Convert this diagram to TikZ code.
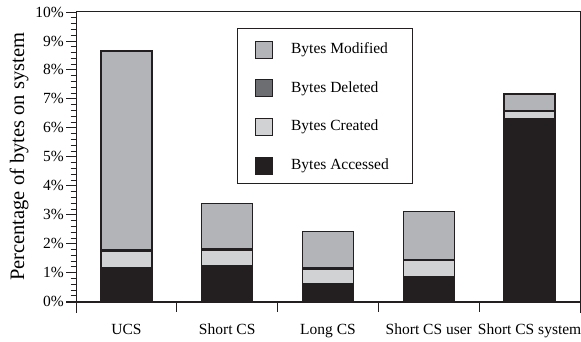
\documentclass[tikz,border=0pt]{standalone}
\usepackage{fontspec}
\setmainfont{Liberation Serif}
\usepackage{tikz}
\usetikzlibrary{positioning}

\definecolor{modgray}{HTML}{B3B4B8}
\definecolor{delgray}{HTML}{6D6E71}
\definecolor{crgray}{HTML}{D1D2D4}
\definecolor{accblack}{HTML}{231F20}

\tikzset{
    seg/.style={draw=accblack, line width=1.3bp},
    ticklab/.style={anchor=east, inner sep=0pt, font=\fontsize{15.5bp}{18bp}\selectfont},
    catlab/.style={anchor=base, inner sep=0pt, font=\fontsize{15.5bp}{18bp}\selectfont},
    legsq/.style={draw=accblack, line width=1.2bp, minimum size=17bp, inner sep=0pt},
    legtext/.style={anchor=west, inner sep=0pt, font=\fontsize{15.5bp}{18bp}\selectfont}
}

\begin{document}
\begin{tikzpicture}[x=1bp,y=1bp]
    \useasboundingbox (-76,-39.3) rectangle (505,301.7);
    % frame
    \draw[accblack, line width=1bp] (0,-11) -- (0,289.7) -- (504,289.7) -- (504,-11);
    % y axis ticks, minor every 0.2%
    \foreach \i in {1,...,49} {
        \draw[accblack, line width=0.9bp] (-5.5,\i*5.794) -- (0,\i*5.794);
    }
    \foreach \i in {0,...,10} {
        \draw[accblack, line width=0.9bp] (-10,\i*28.97) -- (0,\i*28.97);
        \node[ticklab] (yl\i) at (-12,\i*28.97) {\i\%};
    }
    \node[rotate=90, inner sep=0pt, font=\fontsize{20.5bp}{24bp}\selectfont] (ylab) at (-57,144.85) {Percentage of bytes on system};
    % x ticks between categories
    \foreach \i in {1,...,5} {
        \draw[accblack, line width=0.9bp] (\i*100.8,0) -- (\i*100.8,-10);
    }
    % stacked bars: accessed / created / deleted / top
    \begin{scope}[x=100.8bp, y=28.97bp]
        \foreach \n/\a/\c/\d/\t [count=\k] in {UCS/1.19/1.74/1.78/8.65,
            Short CS/1.24/1.78/1.82/3.40,
            Long CS/0.63/1.13/1.17/2.42,
            Short CS user/0.86/1.42/1.46/3.11,
            Short CS system/6.33/6.57/6.61/7.17} {
            \filldraw[seg, fill=modgray] (\k-0.753,\d) rectangle (\k-0.247,\t);
            \filldraw[seg, fill=delgray] (\k-0.753,\c) rectangle (\k-0.247,\d);
            \filldraw[seg, fill=crgray] (\k-0.753,\a) rectangle (\k-0.247,\c);
            \filldraw[seg, fill=accblack] (\k-0.753,0) rectangle (\k-0.247,\a);
            \node[catlab] (cat\k) at (\k-0.5,-1.115) {\n};
        }
    \end{scope}
    \draw[accblack, line width=2bp] (-10,0) -- (504,0);
    % legend
    \node[draw=accblack, line width=1bp, minimum width=175.6bp, minimum height=155bp, anchor=north west, inner sep=0pt] (legend) at (160.7,273.4) {};
    \node[legsq, fill=modgray] (kmod) at (187.8,251.7) {};
    \node[legsq, fill=delgray] (kdel) at (187.8,213.4) {};
    \node[legsq, fill=crgray] (kcre) at (187.8,175) {};
    \node[legsq, fill=accblack] (kacc) at (187.8,136) {};
    \node[legtext, right=18bp of kmod] (tmod) {Bytes Modified};
    \node[legtext, right=18bp of kdel] (tdel) {Bytes Deleted};
    \node[legtext, right=18bp of kcre] (tcre) {Bytes Created};
    \node[legtext, right=18bp of kacc] (tacc) {Bytes Accessed};
\end{tikzpicture}
\end{document}
